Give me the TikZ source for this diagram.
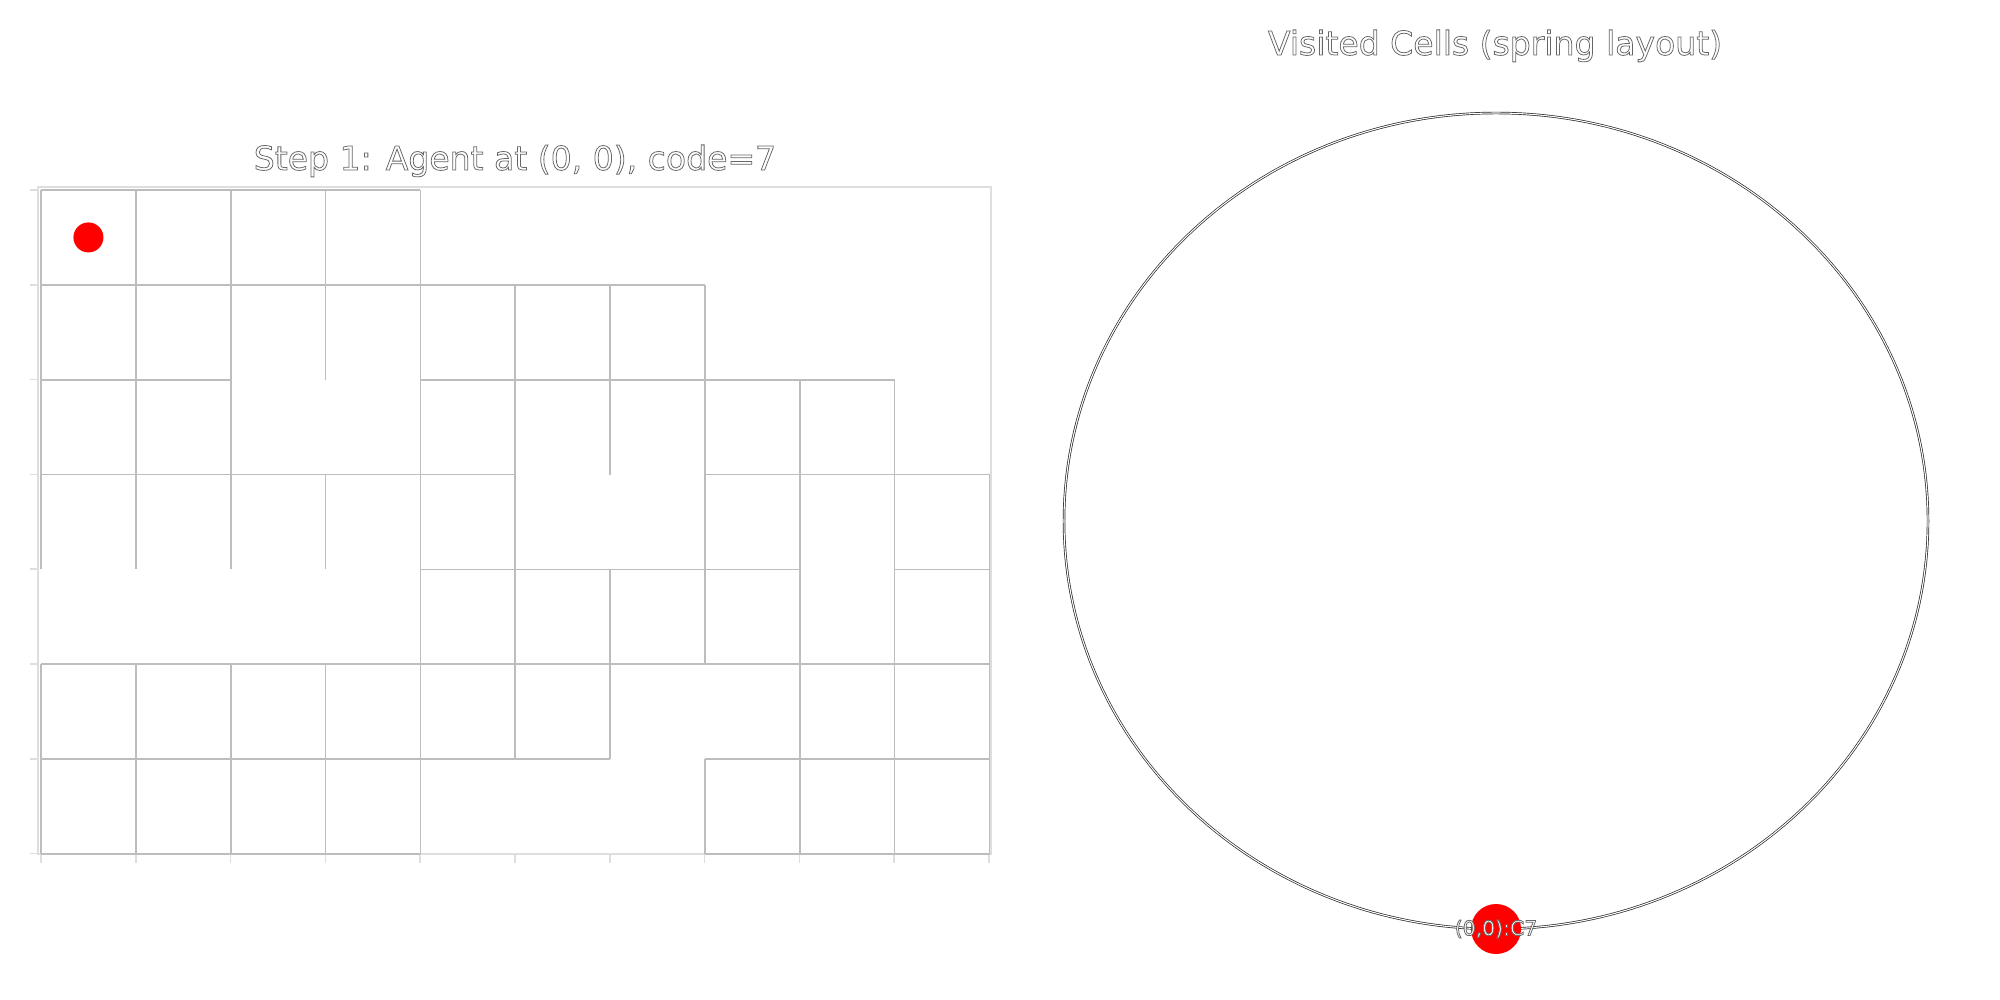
\documentclass[tikz,border=0pt]{standalone}
\usepackage{fontspec}
\setmainfont{DejaVu Sans}
\usepackage{xcolor}
\usepackage{tikz}
\usetikzlibrary{backgrounds}

% outlined text (white fill, thin dark stroke)
\newcommand{\outl}[1]{{\color{white}\special{pdf:literal direct 0.4 0.4 0.4 RG 0.22 w 2 Tr}#1\special{pdf:literal direct 0 Tr}}}

\tikzset{
  wall/.style={draw=black!26, line width=0.45pt},
  spine/.style={draw=black!13, line width=0.45pt},
  loopedge/.style={draw=black!85, line width=0.2pt, double=white, double distance=0.3pt},
  agentdot/.style={circle, fill=red, minimum size=3mm, inner sep=0pt},
  cellnode/.style={circle, fill=red, minimum size=5mm, inner sep=0pt},
  titletext/.style={anchor=base, inner sep=0pt, font=\fontsize{9.4}{11}\selectfont},
}

\begin{document}
\begin{tikzpicture}[x=0.01cm, y=-0.01cm]
\useasboundingbox (0,0) rectangle (2000,1000);

% maze panel
\node[titletext] (mazetitle) at (515,170) {\outl{Step 1: Agent at (0, 0), code=7}};

% axes frame and ticks
\draw[spine] (38,187) -- (991,187) -- (991,854) -- (38,854) -- cycle;
\foreach \r in {0,...,7}
  \draw[spine] (30,190+94.8*\r) -- (38,190+94.8*\r);
\foreach \c in {0,...,10}
  \draw[spine] (41+94.8*\c,854) -- (41+94.8*\c,863);

\begin{scope}[shift={(41,190)}, x=0.948cm, y=-0.948cm]
% horizontal walls: row line / from col / to col
\foreach \r/\a/\b in {0/0/4, 1/0/7, 2/0/2, 2/4/9, 3/0/5, 3/7/10, 4/4/8, 4/9/10,
                      5/0/10, 6/0/6, 6/7/10, 7/0/4, 7/7/10}
  \draw[wall] (\a,\r) -- (\b,\r);
% vertical walls: col line / from row / to row
\foreach \c/\a/\b in {0/0/4, 0/5/7, 1/0/4, 1/5/7, 2/0/4, 2/5/7, 3/0/2, 3/3/4, 3/5/7,
                      4/0/7, 5/1/6, 6/1/3, 6/4/6, 7/1/5, 7/6/7, 8/2/7, 9/2/7, 10/3/7}
  \draw[wall] (\c,\a) -- (\c,\b);

\node[agentdot] (agent) at (0.5,0.5) {};
\end{scope}

% graph panel
\node[titletext] (graphtitle) at (1495,55) {\outl{Visited Cells (spring layout)}};

\node[cellnode, label={[inner sep=0pt, font=\fontsize{5.8}{7}\selectfont]center:\outl{(0,0):C7}}] (c00) at (1496,929) {};
\begin{scope}[on background layer]
\draw[loopedge] (c00.center) arc[start angle=90, end angle=450, x radius=432, y radius=408];
\end{scope}
\end{tikzpicture}
\end{document}
